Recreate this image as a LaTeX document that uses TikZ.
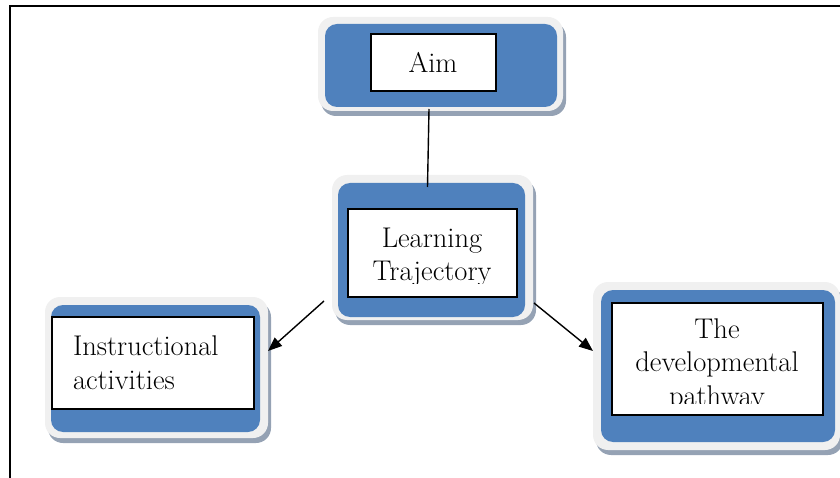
\documentclass[tikz,border=0pt]{standalone}
\usepackage{fontspec}
\usetikzlibrary{calc,arrows.meta,shadows}
\definecolor{panelblue}{HTML}{4F81BD}
\definecolor{rimgrey}{HTML}{F0F0F0}
\definecolor{shadegrey}{HTML}{95A2B4}
\begin{document}
\begin{tikzpicture}[x=1pt,y=-1pt,
  rim/.style={fill=rimgrey, rounded corners=15pt, inner sep=0pt, outer sep=0pt,
    general shadow={shadow xshift=3pt, shadow yshift=-5pt, fill=shadegrey}},
  panel/.style={fill=panelblue, rounded corners=12pt, inner sep=0pt, outer sep=0pt},
  card/.style={fill=white, draw=black, line width=1.3pt, inner sep=0pt, outer sep=0pt},
  caption/.style={font=\fontsize{28.5}{33.5}\selectfont, inner sep=0pt, outer sep=0pt},
  link/.style={line width=1.4pt, black},
  arrowlink/.style={link, -{Triangle[length=14pt,width=11pt]}}]
\useasboundingbox (0,0) rectangle (840,478);

% outer frame (left and top rules)
\draw[line width=2pt] (10,478) -- (10,6) -- (841,6);

% Aim
\node[rim, minimum width=245pt, minimum height=94pt] (aimF) at (440.5,64) {};
\node[panel, minimum width=232pt, minimum height=83pt] (aimB) at (441,65.5) {};
\node[card, minimum width=125pt, minimum height=57pt] (aimIn) at (433.5,62.5) {};
\node[caption, anchor=base] (aimT) at (433,73) {Aim};

% Learning Trajectory (text cut off at the bottom)
\node[rim, minimum width=201pt, minimum height=145pt] (ltF) at (432.5,247.5) {};
\node[panel, minimum width=187pt, minimum height=134pt] (ltB) at (431.5,250) {};
\node[card, minimum width=169pt, minimum height=88pt] (ltIn) at (432.5,253) {};
\begin{scope}
  \clip (348,209) rectangle (517,283.5);
  \node[caption, align=center, anchor=base] (ltT) at (432,280.5) {Learning\\Trajectory};
\end{scope}

% Instructional activities
\node[rim, minimum width=223pt, minimum height=141pt] (insF) at (156.5,367.5) {};
\node[panel, minimum width=209pt, minimum height=127pt] (insB) at (155.5,368.5) {};
\node[card, minimum width=202pt, minimum height=92pt] (insIn) at (153,363) {};
\node[caption, align=left, anchor=base west] (insT) at (73,389) {Instructional\\activities};

% The developmental pathway (text cut off at the bottom)
\node[rim, minimum width=247pt, minimum height=168pt] (devF) at (716.5,366) {};
\node[panel, minimum width=234pt, minimum height=152pt] (devB) at (718,366) {};
\node[card, minimum width=211pt, minimum height=112pt] (devIn) at (717.5,359) {};
\begin{scope}
  \clip (612,303) rectangle (823,403.5);
  \node[caption, align=center, anchor=base] (devT) at (717,405) {The\\developmental\\pathway};
\end{scope}

% connectors
\draw[link] ($(aimB.south)+(-12,2)$) -- ($(ltB.north)+(-4,4)$);
\draw[arrowlink] ($(ltF.south west)+(-8,-19)$) -- ($(insF.north east)+(0,54)$);
\draw[arrowlink] ($(ltF.south east)+(1,-17)$) -- ($(devF.north west)+(0,69)$);
\end{tikzpicture}
\end{document}
